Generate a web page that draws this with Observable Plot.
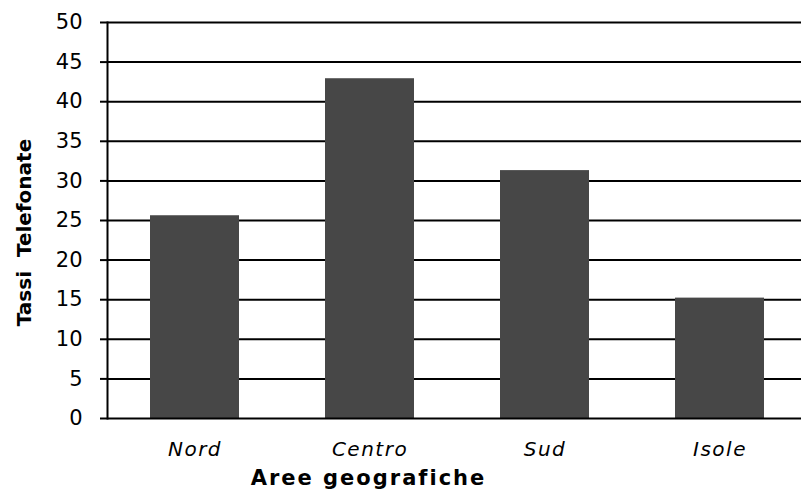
<!DOCTYPE html>
<html>
<head>
<meta charset="utf-8">
<script src="https://cdn.jsdelivr.net/npm/d3@7"></script>
<script src="https://cdn.jsdelivr.net/npm/@observablehq/plot@0.6"></script>
<style>
  html, body { margin: 0; padding: 0; background: #fff; }
  #chart svg { display: block; font-family: "DejaVu Sans", sans-serif; }
  #chart g[aria-label="y-axis tick label"], #chart g[aria-label="y-axis tick label"] text { font-size: 21px !important; }
  #chart g[aria-label="x-axis tick label"], #chart g[aria-label="x-axis tick label"] text { font-size: 20px !important; font-style: italic; letter-spacing: 1.5px; }
  #chart g.xtitle { letter-spacing: 2px; }
</style>
</head>
<body>
<div id="chart"></div>
<script>
const categories = ["Nord", "Centro", "Sud", "Isole"];
const values = [25.6, 42.9, 31.3, 15.2];
const yTicks = [0, 5, 10, 15, 20, 25, 30, 35, 40, 45, 50];
const xTitle = "Aree geografiche";
const yTitle = "Tassi  Telefonate";

const data = categories.map((c, i) => ({ area: c, value: values[i] }));

const chart = Plot.plot({
  width: 801,
  height: 490,
  marginTop: 22,
  marginBottom: 72,
  marginLeft: 107,
  marginRight: 0,
  style: { fontFamily: "DejaVu Sans, sans-serif", fontSize: "21px", background: "#fff", color: "#000", overflow: "hidden" },
  x: { domain: categories, range: [107, 807], paddingInner: 0.49, paddingOuter: 0.245 },
  y: { domain: [0, 50], ticks: yTicks },
  marks: [
    Plot.ruleY(yTicks.filter(d => d > 0), { stroke: "#000", strokeWidth: 2 }),
    Plot.barY(data, { x: "area", y: "value", fill: "#474747" }),
    Plot.ruleY([0], { stroke: "#000", strokeWidth: 2 }),
    Plot.frame({ anchor: "left", stroke: "#000", strokeWidth: 2 }),
    Plot.axisY({ ticks: yTicks, tickSize: 7, tickPadding: 18, label: null, fontSize: 21, strokeWidth: 2, stroke: "#000" }),
    Plot.axisX({ tickSize: 0, tickPadding: 23, label: null, fontSize: 20, fontStyle: "italic" }),
    Plot.text([xTitle], { frameAnchor: "bottom", dy: 60, dx: -86, fontSize: 21, fontWeight: "bold", lineAnchor: "middle", className: "xtitle" }),
    Plot.text([yTitle], { frameAnchor: "left", dx: -83, dy: 12, rotate: -90, textAnchor: "middle", fontSize: 20, fontWeight: "bold", lineAnchor: "middle" })
  ]
});
document.getElementById("chart").appendChild(chart);
</script>
</body>
</html>
